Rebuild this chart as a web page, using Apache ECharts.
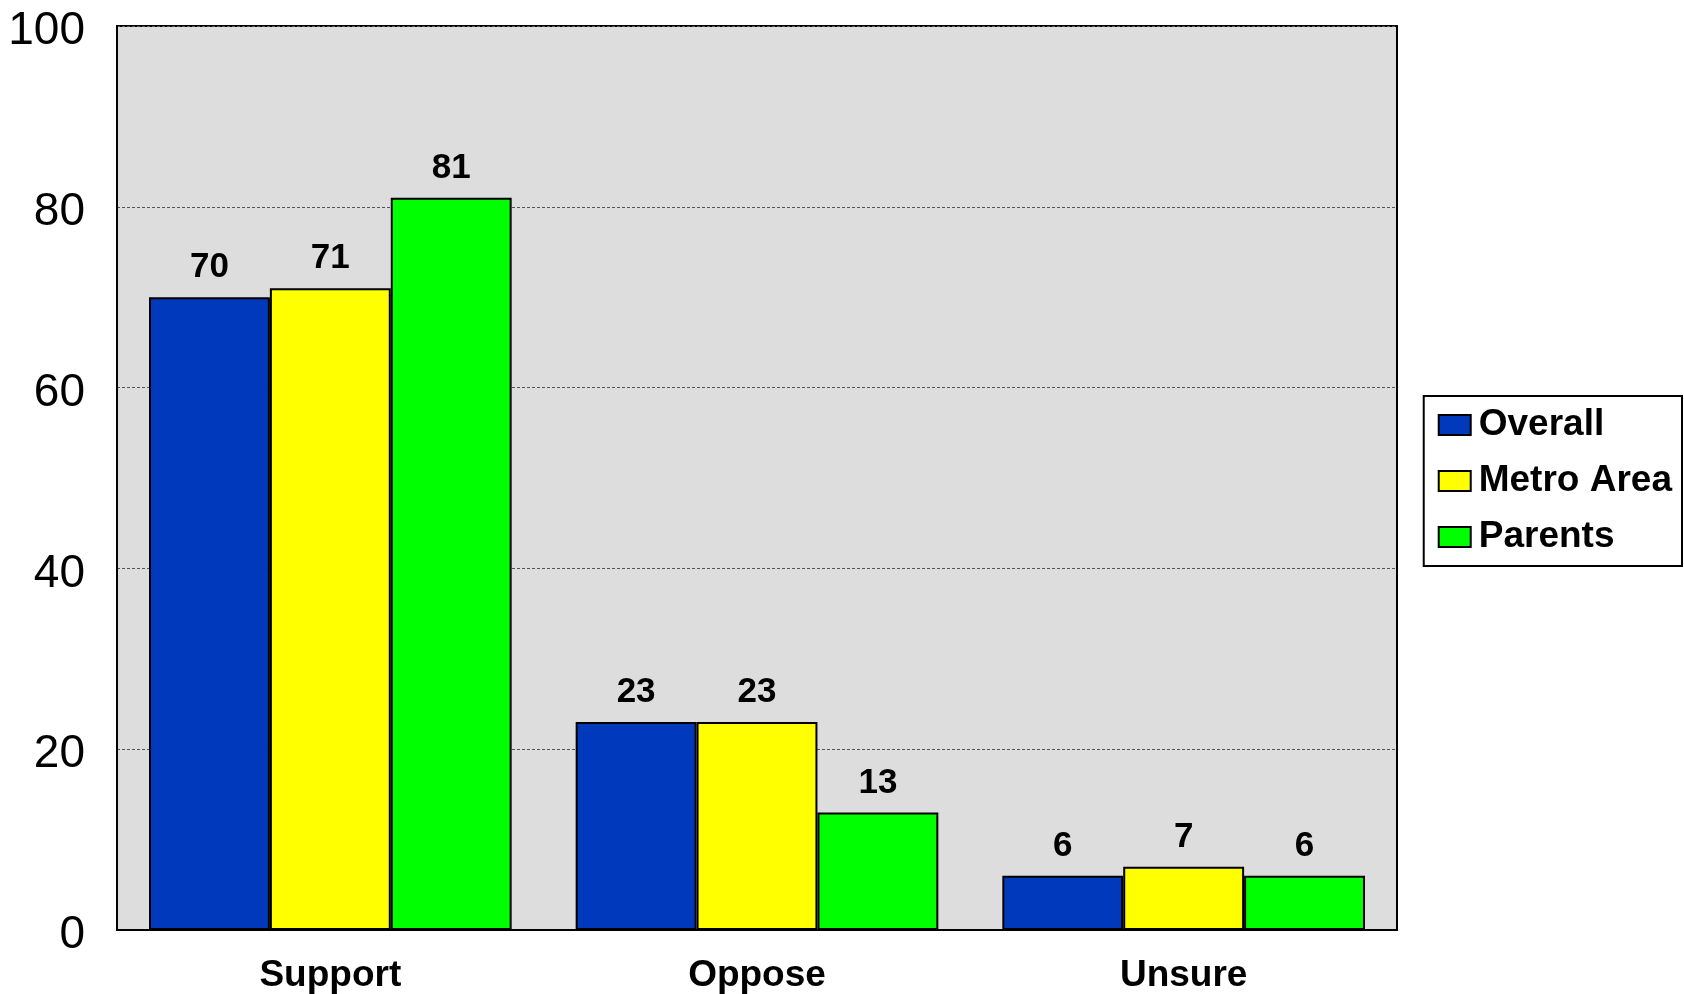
<!DOCTYPE html>
<html>
<head>
<meta charset="utf-8">
<script src="https://cdn.jsdelivr.net/npm/echarts@6/dist/echarts.min.js"></script>
<style>
  html, body { margin: 0; padding: 0; background: #fff; }
  #chart { width: 1684px; height: 994px; }
</style>
</head>
<body>
<div id="chart"></div>
<script>
var categories = ['Support', 'Oppose', 'Unsure']
var seriesNames = ['Overall', 'Metro Area', 'Parents']
var overall = [70, 23, 6]
var metroArea = [71, 23, 7]
var parents = [81, 13, 6]
var yTicks = [0, 20, 40, 60, 80, 100]

var colors = ['#0039BC', '#FFFF00', '#00FF00']
var values = [overall, metroArea, parents]

var chart = echarts.init(document.getElementById('chart'))

var series = seriesNames.map(function(name, i) {
  return {
    name: name,
    type: 'bar',
    data: values[i],
    barGap: '0%',
    barCategoryGap: '15%',
    itemStyle: {
      color: colors[i],
      borderColor: '#000',
      borderWidth: 2
    },
    label: {
      show: true,
      position: 'top',
      distance: 12,
      color: '#000',
      fontWeight: 'bold',
      fontSize: 35
    }
  }
})

var option = {
  animation: false,
  textStyle: { fontFamily: 'Liberation Sans, Arial, sans-serif' },
  grid: {
    left: 117,
    right: 287,
    top: 26,
    bottom: 62,
    show: true,
    backgroundColor: '#DDDDDD',
    borderColor: '#000',
    borderWidth: 2
  },
  legend: {
    orient: 'vertical',
    right: 2,
    top: 396,
    data: seriesNames,
    icon: 'rect',
    itemWidth: 32,
    itemHeight: 20,
    itemGap: 18,
    padding: [10, 10, 10, 14],
    borderColor: '#000',
    borderWidth: 2,
    backgroundColor: '#fff',
    itemStyle: { borderColor: '#000', borderWidth: 2 },
    textStyle: {
      color: '#000',
      fontWeight: 'bold',
      fontSize: 37,
      lineHeight: 38,
      padding: [0, 0, 0, 3]
    }
  },
  xAxis: {
    type: 'category',
    data: categories,
    axisLine: { show: true, lineStyle: { color: '#000', width: 2 } },
    axisTick: { show: false },
    axisLabel: {
      color: '#000',
      fontWeight: 'bold',
      fontSize: 37,
      margin: 27
    }
  },
  yAxis: {
    type: 'value',
    min: yTicks[0],
    max: yTicks[yTicks.length - 1],
    interval: 20,
    axisLine: { show: true, lineStyle: { color: '#000', width: 2 } },
    axisTick: { show: false },
    axisLabel: {
      color: '#000',
      fontSize: 46,
      margin: 32,
      formatter: '{v|{value}}',
      rich: {
        v: { fontSize: 46, color: '#000', padding: [11, 0, 0, 0] }
      }
    },
    splitLine: {
      show: true,
      lineStyle: { color: '#555', width: 1, type: [3, 2] }
    }
  },
  series: series
}

chart.setOption(option)
window.addEventListener('resize', function() {
  chart.resize()
})
</script>
</body>
</html>
